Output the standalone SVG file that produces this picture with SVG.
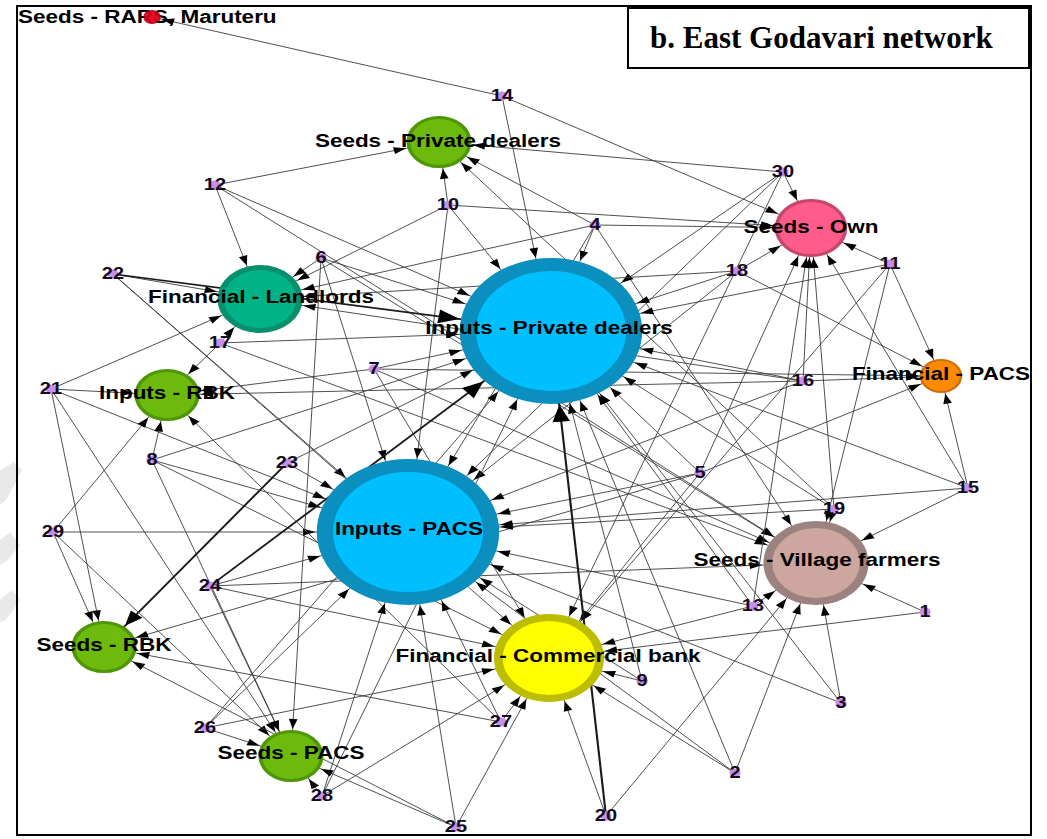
<svg xmlns="http://www.w3.org/2000/svg" width="1047" height="839" viewBox="0 0 1047 839">
<style>
.edges line{stroke:#3c3c3c;stroke-width:0.8}
.edges line.thick{stroke:#1a1a1a;stroke-width:1.7}
.lbl{font-family:"Liberation Sans",Arial,sans-serif;font-weight:bold;font-size:18px;fill:#000;text-anchor:middle}
.num{font-family:"Liberation Sans",Arial,sans-serif;font-weight:bold;font-size:16px;fill:#140a1e;text-anchor:middle}
.dot{fill:#c68fe8}
.green{fill:#6cbb0c;stroke:#4f9607;stroke-width:3}
.blue{fill:#00bfff;stroke:#0b8fbf;stroke-width:13}
.arr{fill:#000}
</style>
<defs>
<marker id="m7" markerUnits="userSpaceOnUse" orient="auto" overflow="visible" markerWidth="1" markerHeight="1"><path class="arr" d="M-8,0 L-18,-3.5 L-18,3.5 Z"/></marker>
<marker id="m17" markerUnits="userSpaceOnUse" orient="auto" overflow="visible" markerWidth="1" markerHeight="1"><path class="arr" d="M-18,0 L-28,-3.5 L-28,3.5 Z"/></marker>
<marker id="m26" markerUnits="userSpaceOnUse" orient="auto" overflow="visible" markerWidth="1" markerHeight="1"><path class="arr" d="M-27,0 L-37,-3.5 L-37,3.5 Z"/></marker>
<marker id="m29" markerUnits="userSpaceOnUse" orient="auto" overflow="visible" markerWidth="1" markerHeight="1"><path class="arr" d="M-30,0 L-40,-3.5 L-40,3.5 Z"/></marker>
<marker id="m34" markerUnits="userSpaceOnUse" orient="auto" overflow="visible" markerWidth="1" markerHeight="1"><path class="arr" d="M-35,0 L-45,-3.5 L-45,3.5 Z"/></marker>
<marker id="m42" markerUnits="userSpaceOnUse" orient="auto" overflow="visible" markerWidth="1" markerHeight="1"><path class="arr" d="M-43,0 L-53,-3.5 L-53,3.5 Z"/></marker>
<marker id="m44" markerUnits="userSpaceOnUse" orient="auto" overflow="visible" markerWidth="1" markerHeight="1"><path class="arr" d="M-45,0 L-55,-3.5 L-55,3.5 Z"/></marker>
<marker id="m73" markerUnits="userSpaceOnUse" orient="auto" overflow="visible" markerWidth="1" markerHeight="1"><path class="arr" d="M-74,0 L-84,-3.5 L-84,3.5 Z"/></marker>
<marker id="t73" markerUnits="userSpaceOnUse" orient="auto" overflow="visible" markerWidth="1" markerHeight="1"><path class="arr" d="M-74,0 L-91,-7 L-91,7 Z"/></marker>
<marker id="t26" markerUnits="userSpaceOnUse" orient="auto" overflow="visible" markerWidth="1" markerHeight="1"><path class="arr" d="M-27,0 L-42,-6 L-42,6 Z"/></marker>
</defs>
<rect width="1047" height="839" fill="#fff"/>
<g id="watermark" fill="#e9e9e9">
<polygon points="0,470 14,462 22,470 6,500 0,505"/>
<polygon points="0,540 10,532 20,545 8,560 0,565"/>
<polygon points="0,600 12,590 20,600 6,620 0,622"/>
</g>
<rect id="frame" x="17" y="6" width="1014" height="829" fill="none" stroke="#000" stroke-width="2"/>
<g id="title">
<rect x="628" y="8" width="401" height="60" fill="#fff" stroke="#000" stroke-width="2"/>
<text x="650" y="48" font-family="'Liberation Serif','Times New Roman',serif" font-weight="bold" font-size="31" fill="#000">b. East Godavari network</text>
</g>
<g id="graph" transform="scale(1.25,1)">
<g id="connectors" class="edges">
<!-- 14 -->
<line x1="401.6" y1="96" x2="121.6" y2="17" marker-end="url(#m7)"/>
<line x1="401.6" y1="96" x2="648.8" y2="228" marker-end="url(#m29)"/>
<line x1="401.6" y1="96" x2="440.8" y2="331" marker-end="url(#m73)"/>
<!-- 12 -->
<line x1="172" y1="185" x2="351.2" y2="142" marker-end="url(#m26)"/>
<line x1="172" y1="185" x2="208" y2="299" marker-end="url(#m34)"/>
<line x1="172" y1="185" x2="440.8" y2="331" marker-end="url(#m73)"/>
<line x1="172" y1="185" x2="652.8" y2="563" marker-end="url(#m42)"/>
<!-- 10 -->
<line x1="358.4" y1="205" x2="351.2" y2="142" marker-end="url(#m26)"/>
<line x1="358.4" y1="205" x2="440.8" y2="331" marker-end="url(#m73)"/>
<line x1="358.4" y1="205" x2="326.4" y2="532" marker-end="url(#m73)"/>
<line x1="358.4" y1="205" x2="208" y2="299" marker-end="url(#m34)"/>
<line x1="358.4" y1="205" x2="648.8" y2="228" marker-end="url(#m29)"/>
<!-- 4 -->
<line x1="476" y1="225" x2="351.2" y2="142" marker-end="url(#m26)"/>
<line x1="476" y1="225" x2="440.8" y2="331" marker-end="url(#m73)"/>
<line x1="476" y1="225" x2="208" y2="299" marker-end="url(#m34)"/>
<line x1="476" y1="225" x2="648.8" y2="228" marker-end="url(#m29)"/>
<line x1="476" y1="225" x2="326.4" y2="532" marker-end="url(#m73)"/>
<line x1="476" y1="225" x2="652.8" y2="563" marker-end="url(#m42)"/>
<!-- 30 -->
<line x1="626.4" y1="172" x2="351.2" y2="142" marker-end="url(#m26)"/>
<line x1="626.4" y1="172" x2="648.8" y2="228" marker-end="url(#m29)"/>
<line x1="626.4" y1="172" x2="440.8" y2="331" marker-end="url(#m73)"/>
<line x1="626.4" y1="172" x2="326.4" y2="532" marker-end="url(#m73)"/>
<line x1="626.4" y1="172" x2="439.2" y2="658" marker-end="url(#m44)"/>
<!-- 6 -->
<line x1="256.8" y1="258" x2="208" y2="299" marker-end="url(#m34)"/>
<line x1="256.8" y1="258" x2="440.8" y2="331" marker-end="url(#m73)"/>
<line x1="256.8" y1="258" x2="326.4" y2="532" marker-end="url(#m73)"/>
<line x1="256.8" y1="258" x2="232.8" y2="756" marker-end="url(#m26)"/>
<line x1="256.8" y1="258" x2="652.8" y2="563" marker-end="url(#m42)"/>
<!-- 22 -->
<line x1="90.4" y1="274" x2="208" y2="299" marker-end="url(#m34)"/>
<line class="thick" x1="90.4" y1="274" x2="440.8" y2="331" marker-end="url(#t73)"/>
<line x1="90.4" y1="274" x2="326.4" y2="532" marker-end="url(#m73)"/>
<line x1="90.4" y1="274" x2="439.2" y2="658" marker-end="url(#m44)"/>
<!-- 18 -->
<line x1="589.6" y1="271" x2="440.8" y2="331" marker-end="url(#m73)"/>
<line x1="589.6" y1="271" x2="648.8" y2="228" marker-end="url(#m29)"/>
<line x1="589.6" y1="271" x2="326.4" y2="532" marker-end="url(#m73)"/>
<line x1="589.6" y1="271" x2="752.8" y2="376" marker-end="url(#m17)"/>
<line x1="589.6" y1="271" x2="208" y2="299" marker-end="url(#m34)"/>
<!-- 11 -->
<line x1="712" y1="264" x2="648.8" y2="228" marker-end="url(#m29)"/>
<line x1="712" y1="264" x2="440.8" y2="331" marker-end="url(#m73)"/>
<line x1="712" y1="264" x2="752.8" y2="376" marker-end="url(#m17)"/>
<line x1="712" y1="264" x2="652.8" y2="563" marker-end="url(#m42)"/>
<line x1="712" y1="264" x2="439.2" y2="658" marker-end="url(#m44)"/>
<!-- 17 -->
<line x1="176" y1="343" x2="208" y2="299" marker-end="url(#m34)"/>
<line x1="176" y1="343" x2="440.8" y2="331" marker-end="url(#m73)"/>
<line x1="176" y1="343" x2="133.6" y2="395" marker-end="url(#m26)"/>
<line x1="176" y1="343" x2="652.8" y2="563" marker-end="url(#m42)"/>
<!-- 21 -->
<line x1="40.8" y1="389" x2="208" y2="299" marker-end="url(#m34)"/>
<line x1="40.8" y1="389" x2="133.6" y2="395" marker-end="url(#m26)"/>
<line x1="40.8" y1="389" x2="83.2" y2="647" marker-end="url(#m26)"/>
<line x1="40.8" y1="389" x2="326.4" y2="532" marker-end="url(#m73)"/>
<line x1="40.8" y1="389" x2="232.8" y2="756" marker-end="url(#m26)"/>
<!-- 7 -->
<line x1="299.2" y1="369" x2="440.8" y2="331" marker-end="url(#m73)"/>
<line x1="299.2" y1="369" x2="133.6" y2="395" marker-end="url(#m26)"/>
<line x1="299.2" y1="369" x2="652.8" y2="563" marker-end="url(#m42)"/>
<line x1="299.2" y1="369" x2="439.2" y2="658" marker-end="url(#m44)"/>
<line x1="299.2" y1="369" x2="752.8" y2="376" marker-end="url(#m17)"/>
<!-- 16 -->
<line x1="642.4" y1="381" x2="440.8" y2="331" marker-end="url(#m73)"/>
<line x1="642.4" y1="381" x2="648.8" y2="228" marker-end="url(#m29)"/>
<line x1="642.4" y1="381" x2="133.6" y2="395" marker-end="url(#m26)"/>
<line x1="642.4" y1="381" x2="208" y2="299" marker-end="url(#m34)"/>
<line x1="642.4" y1="381" x2="752.8" y2="376" marker-end="url(#m17)"/>
<line x1="642.4" y1="381" x2="326.4" y2="532" marker-end="url(#m73)"/>
<!-- 8 -->
<line x1="121.6" y1="460" x2="133.6" y2="395" marker-end="url(#m26)"/>
<line x1="121.6" y1="460" x2="326.4" y2="532" marker-end="url(#m73)"/>
<line x1="121.6" y1="460" x2="440.8" y2="331" marker-end="url(#m73)"/>
<line x1="121.6" y1="460" x2="232.8" y2="756" marker-end="url(#m26)"/>
<line x1="121.6" y1="460" x2="439.2" y2="658" marker-end="url(#m44)"/>
<!-- 23 -->
<line x1="229.6" y1="463" x2="440.8" y2="331" marker-end="url(#m73)"/>
<line x1="229.6" y1="463" x2="326.4" y2="532" marker-end="url(#m73)"/>
<line class="thick" x1="229.6" y1="463" x2="83.2" y2="647" marker-end="url(#t26)"/>
<!-- 5 -->
<line x1="560" y1="473" x2="440.8" y2="331" marker-end="url(#m73)"/>
<line x1="560" y1="473" x2="326.4" y2="532" marker-end="url(#m73)"/>
<line x1="560" y1="473" x2="752.8" y2="376" marker-end="url(#m17)"/>
<line x1="560" y1="473" x2="648.8" y2="228" marker-end="url(#m29)"/>
<line x1="560" y1="473" x2="439.2" y2="658" marker-end="url(#m44)"/>
<line x1="560" y1="473" x2="83.2" y2="647" marker-end="url(#m26)"/>
<!-- 15 -->
<line x1="774.4" y1="488" x2="648.8" y2="228" marker-end="url(#m29)"/>
<line x1="774.4" y1="488" x2="752.8" y2="376" marker-end="url(#m17)"/>
<line x1="774.4" y1="488" x2="326.4" y2="532" marker-end="url(#m73)"/>
<line x1="774.4" y1="488" x2="652.8" y2="563" marker-end="url(#m42)"/>
<line x1="774.4" y1="488" x2="440.8" y2="331" marker-end="url(#m73)"/>
<!-- 19 -->
<line x1="667.2" y1="509" x2="648.8" y2="228" marker-end="url(#m29)"/>
<line x1="667.2" y1="509" x2="440.8" y2="331" marker-end="url(#m73)"/>
<line x1="667.2" y1="509" x2="652.8" y2="563" marker-end="url(#m42)"/>
<line x1="667.2" y1="509" x2="326.4" y2="532" marker-end="url(#m73)"/>
<line x1="667.2" y1="509" x2="351.2" y2="142" marker-end="url(#m26)"/>
<!-- 29 -->
<line x1="42.4" y1="532" x2="133.6" y2="395" marker-end="url(#m26)"/>
<line x1="42.4" y1="532" x2="326.4" y2="532" marker-end="url(#m73)"/>
<line x1="42.4" y1="532" x2="83.2" y2="647" marker-end="url(#m26)"/>
<line x1="42.4" y1="532" x2="232.8" y2="756" marker-end="url(#m26)"/>
<!-- 24 -->
<line class="thick" x1="168" y1="586" x2="440.8" y2="331" marker-end="url(#t73)"/>
<line x1="168" y1="586" x2="326.4" y2="532" marker-end="url(#m73)"/>
<line x1="168" y1="586" x2="232.8" y2="756" marker-end="url(#m26)"/>
<line x1="168" y1="586" x2="652.8" y2="563" marker-end="url(#m42)"/>
<line x1="168" y1="586" x2="439.2" y2="658" marker-end="url(#m44)"/>
<!-- 13 -->
<line x1="602.4" y1="606" x2="652.8" y2="563" marker-end="url(#m42)"/>
<line x1="602.4" y1="606" x2="440.8" y2="331" marker-end="url(#m73)"/>
<line x1="602.4" y1="606" x2="326.4" y2="532" marker-end="url(#m73)"/>
<line x1="602.4" y1="606" x2="648.8" y2="228" marker-end="url(#m29)"/>
<line x1="602.4" y1="606" x2="439.2" y2="658" marker-end="url(#m44)"/>
<!-- 1 -->
<line x1="740" y1="612" x2="652.8" y2="563" marker-end="url(#m42)"/>
<line x1="740" y1="612" x2="439.2" y2="658" marker-end="url(#m44)"/>
<!-- 9 -->
<line x1="513.6" y1="681" x2="439.2" y2="658" marker-end="url(#m44)"/>
<line x1="513.6" y1="681" x2="440.8" y2="331" marker-end="url(#m73)"/>
<line x1="513.6" y1="681" x2="326.4" y2="532" marker-end="url(#m73)"/>
<!-- 3 -->
<line x1="672.8" y1="703" x2="652.8" y2="563" marker-end="url(#m42)"/>
<line x1="672.8" y1="703" x2="440.8" y2="331" marker-end="url(#m73)"/>
<line x1="672.8" y1="703" x2="326.4" y2="532" marker-end="url(#m73)"/>
<!-- 27 -->
<line x1="400.8" y1="722" x2="439.2" y2="658" marker-end="url(#m44)"/>
<line x1="400.8" y1="722" x2="326.4" y2="532" marker-end="url(#m73)"/>
<line x1="400.8" y1="722" x2="83.2" y2="647" marker-end="url(#m26)"/>
<line x1="400.8" y1="722" x2="133.6" y2="395" marker-end="url(#m26)"/>
<!-- 26 -->
<line x1="164" y1="728" x2="326.4" y2="532" marker-end="url(#m73)"/>
<line x1="164" y1="728" x2="440.8" y2="331" marker-end="url(#m73)"/>
<line x1="164" y1="728" x2="232.8" y2="756" marker-end="url(#m26)"/>
<line x1="164" y1="728" x2="439.2" y2="658" marker-end="url(#m44)"/>
<!-- 2 -->
<line x1="588" y1="773" x2="652.8" y2="563" marker-end="url(#m42)"/>
<line x1="588" y1="773" x2="439.2" y2="658" marker-end="url(#m44)"/>
<line x1="588" y1="773" x2="326.4" y2="532" marker-end="url(#m73)"/>
<line x1="588" y1="773" x2="440.8" y2="331" marker-end="url(#m73)"/>
<!-- 28 -->
<line x1="257.6" y1="796" x2="232.8" y2="756" marker-end="url(#m26)"/>
<line x1="257.6" y1="796" x2="326.4" y2="532" marker-end="url(#m73)"/>
<line x1="257.6" y1="796" x2="440.8" y2="331" marker-end="url(#m73)"/>
<line x1="257.6" y1="796" x2="439.2" y2="658" marker-end="url(#m44)"/>
<!-- 20 -->
<line class="thick" x1="484.8" y1="816" x2="440.8" y2="331" marker-end="url(#t73)"/>
<line x1="484.8" y1="816" x2="439.2" y2="658" marker-end="url(#m44)"/>
<line x1="484.8" y1="816" x2="652.8" y2="563" marker-end="url(#m42)"/>
<!-- 25 -->
<line x1="364.8" y1="827" x2="232.8" y2="756" marker-end="url(#m26)"/>
<line x1="364.8" y1="827" x2="326.4" y2="532" marker-end="url(#m73)"/>
<line x1="364.8" y1="827" x2="83.2" y2="647" marker-end="url(#m26)"/>
<line x1="364.8" y1="827" x2="439.2" y2="658" marker-end="url(#m44)"/>
</g>
<g id="node-inputs-private-dealers"><circle class="blue" cx="440.8" cy="331" r="66.5"/><text class="lbl" x="439.2" y="334">Inputs - Private dealers</text></g>
<g id="node-inputs-pacs"><circle class="blue" cx="326.4" cy="532" r="66.5"/><text class="lbl" x="327.2" y="535">Inputs - PACS</text></g>
<g id="node-financial-commercial-bank"><circle cx="439.2" cy="658" r="40.5" fill="#ffff00" stroke="#bcbc00" stroke-width="7"/><text class="lbl" x="438.4" y="662">Financial - Commercial bank</text></g>
<g id="node-seeds-village-farmers"><circle cx="652.8" cy="563" r="38.5" fill="#cca69f" stroke="#9b827e" stroke-width="7"/><text class="lbl" x="653.6" y="566">Seeds - Village farmers</text></g>
<g id="node-seeds-own"><circle cx="648.8" cy="228" r="27.5" fill="#ff5b8b" stroke="#c8466c" stroke-width="3"/><text class="lbl" x="648.8" y="233">Seeds - Own</text></g>
<g id="node-financial-pacs"><circle cx="752.8" cy="376" r="16" fill="#ff8a00" stroke="#cc6f10" stroke-width="2"/><text class="lbl" x="752.8" y="380">Financial - PACS</text></g>
<g id="node-seeds-private-dealers"><circle class="green" cx="351.2" cy="142" r="24.5"/><text class="lbl" x="350.4" y="147">Seeds - Private dealers</text></g>
<g id="node-financial-landlords"><circle cx="208" cy="299" r="31.5" fill="#00b386" stroke="#0a8f6e" stroke-width="5"/><text class="lbl" x="208.8" y="303">Financial - Landlords</text></g>
<g id="node-inputs-rbk"><circle class="green" cx="133.6" cy="395" r="24.5"/><text class="lbl" x="133.6" y="399">Inputs - RBK</text></g>
<g id="node-seeds-rbk"><circle class="green" cx="83.2" cy="647" r="24.5"/><text class="lbl" x="83.2" y="651">Seeds - RBK</text></g>
<g id="node-seeds-pacs"><circle class="green" cx="232.8" cy="756" r="24.5"/><text class="lbl" x="232.8" y="759">Seeds - PACS</text></g>
<g id="node-seeds-rars"><text class="lbl" x="14.4" y="23" style="text-anchor:start">Seeds - RARS, Maruteru</text><circle cx="121.6" cy="17" r="6.5" fill="#e00018" stroke="#b00010" stroke-width="1" opacity="0.92"/></g>
<g id="node-14"><circle class="dot" cx="401.6" cy="96" r="4.5"/><text class="num" x="401.6" y="101">14</text></g>
<g id="node-12"><circle class="dot" cx="172" cy="185" r="4.5"/><text class="num" x="172" y="190">12</text></g>
<g id="node-10"><circle class="dot" cx="358.4" cy="205" r="4.5"/><text class="num" x="358.4" y="210">10</text></g>
<g id="node-4"><circle class="dot" cx="476" cy="225" r="4.5"/><text class="num" x="476" y="230">4</text></g>
<g id="node-30"><circle class="dot" cx="626.4" cy="172" r="4.5"/><text class="num" x="626.4" y="177">30</text></g>
<g id="node-6"><circle class="dot" cx="256.8" cy="258" r="4.5"/><text class="num" x="256.8" y="263">6</text></g>
<g id="node-22"><circle class="dot" cx="90.4" cy="274" r="4.5"/><text class="num" x="90.4" y="279">22</text></g>
<g id="node-18"><circle class="dot" cx="589.6" cy="271" r="4.5"/><text class="num" x="589.6" y="276">18</text></g>
<g id="node-11"><circle class="dot" cx="712" cy="264" r="4.5"/><text class="num" x="712" y="269">11</text></g>
<g id="node-17"><circle class="dot" cx="176" cy="343" r="4.5"/><text class="num" x="176" y="348">17</text></g>
<g id="node-21"><circle class="dot" cx="40.8" cy="389" r="4.5"/><text class="num" x="40.8" y="394">21</text></g>
<g id="node-7"><circle class="dot" cx="299.2" cy="369" r="4.5"/><text class="num" x="299.2" y="374">7</text></g>
<g id="node-16"><circle class="dot" cx="642.4" cy="381" r="4.5"/><text class="num" x="642.4" y="386">16</text></g>
<g id="node-8"><circle class="dot" cx="121.6" cy="460" r="4.5"/><text class="num" x="121.6" y="465">8</text></g>
<g id="node-23"><circle class="dot" cx="229.6" cy="463" r="4.5"/><text class="num" x="229.6" y="468">23</text></g>
<g id="node-5"><circle class="dot" cx="560" cy="473" r="4.5"/><text class="num" x="560" y="478">5</text></g>
<g id="node-15"><circle class="dot" cx="774.4" cy="488" r="4.5"/><text class="num" x="774.4" y="493">15</text></g>
<g id="node-19"><circle class="dot" cx="667.2" cy="509" r="4.5"/><text class="num" x="667.2" y="514">19</text></g>
<g id="node-29"><circle class="dot" cx="42.4" cy="532" r="4.5"/><text class="num" x="42.4" y="537">29</text></g>
<g id="node-24"><circle class="dot" cx="168" cy="586" r="4.5"/><text class="num" x="168" y="591">24</text></g>
<g id="node-13"><circle class="dot" cx="602.4" cy="606" r="4.5"/><text class="num" x="602.4" y="611">13</text></g>
<g id="node-1"><circle class="dot" cx="740" cy="612" r="4.5"/><text class="num" x="740" y="617">1</text></g>
<g id="node-9"><circle class="dot" cx="513.6" cy="681" r="4.5"/><text class="num" x="513.6" y="686">9</text></g>
<g id="node-3"><circle class="dot" cx="672.8" cy="703" r="4.5"/><text class="num" x="672.8" y="708">3</text></g>
<g id="node-27"><circle class="dot" cx="400.8" cy="722" r="4.5"/><text class="num" x="400.8" y="727">27</text></g>
<g id="node-26"><circle class="dot" cx="164" cy="728" r="4.5"/><text class="num" x="164" y="733">26</text></g>
<g id="node-2"><circle class="dot" cx="588" cy="773" r="4.5"/><text class="num" x="588" y="778">2</text></g>
<g id="node-28"><circle class="dot" cx="257.6" cy="796" r="4.5"/><text class="num" x="257.6" y="801">28</text></g>
<g id="node-20"><circle class="dot" cx="484.8" cy="816" r="4.5"/><text class="num" x="484.8" y="821">20</text></g>
<g id="node-25"><circle class="dot" cx="364.8" cy="827" r="4.5"/><text class="num" x="364.8" y="832">25</text></g>
</g>
</svg>
